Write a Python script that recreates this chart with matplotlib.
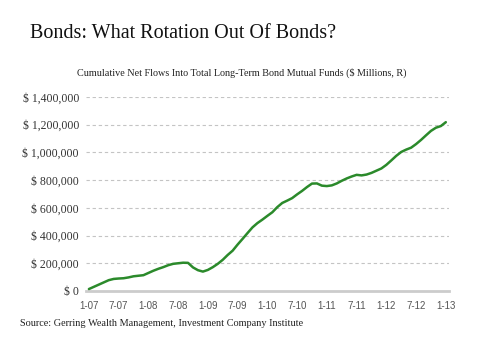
import matplotlib
matplotlib.use('Agg')
import matplotlib.pyplot as plt
import numpy as np

# monthly cumulative net flows, Jan 2007 .. Jan 2013 ($ millions)
flows = [14000, 30000, 46000, 62000, 78000, 87000, 90000, 92000, 98000, 106000,
         110000, 114000, 130000, 146000, 160000, 172000, 186000, 196000, 200000, 204000,
         203000, 170000, 150000, 140000, 152000, 172000, 196000, 225000, 260000, 291000,
         335000, 376000, 418000, 459000, 490000, 515000, 542000, 568000, 605000, 635000,
         652000, 670000, 697000, 722000, 750000, 775000, 776000, 760000, 757000, 762000,
         776000, 795000, 812000, 826000, 838000, 834000, 840000, 852000, 868000, 884000,
         910000, 942000, 975000, 1003000, 1020000, 1034000, 1060000, 1090000, 1123000, 1155000,
         1178000, 1190000, 1218000]
tick_pos = list(range(0, 73, 6))
tick_labels = ['1-07', '7-07', '1-08', '7-08', '1-09', '7-09', '1-10',
               '7-10', '1-11', '7-11', '1-12', '7-12', '1-13']
y_ticks = [0, 200000, 400000, 600000, 800000, 1000000, 1200000, 1400000]

serif = ['Liberation Serif', 'DejaVu Serif']
sans = ['Liberation Sans', 'DejaVu Sans']

fig = plt.figure(figsize=(4.8, 3.6), dpi=100)
ax = fig.add_axes([0.179, 0.1917, 0.756, 0.539])

months = np.arange(len(flows))
ax.plot(months, flows, color='#2b8a2b', lw=1.8, solid_capstyle='round')

ax.set_xlim(-0.6, 72.6)
ax.set_ylim(0, 1400000)
ax.set_yticks(y_ticks)
ax.set_yticklabels(['$ 0' if v == 0 else '$ {:,}'.format(v) for v in y_ticks],
                   fontfamily=serif, fontsize=8.5, color='#333333')
ax.set_xticks(tick_pos)
ax.set_xticklabels(tick_labels, fontfamily=sans, fontsize=7, color='#555555')
ax.tick_params(length=0)
ax.tick_params(axis='y', pad=5)
ax.tick_params(axis='x', pad=7)

for v in y_ticks[1:]:
    ax.axhline(v, color='#c4c4c4', lw=0.8, ls=(0, (3, 2.5)), zorder=0)
for s in ['top', 'right', 'left']:
    ax.spines[s].set_visible(False)
ax.spines['bottom'].set_color('#cccccc')
ax.spines['bottom'].set_linewidth(2)
ax.spines['bottom'].set_zorder(0)

fig.text(0.0625, 0.908, 'Bonds: What Rotation Out Of Bonds?', fontfamily=serif,
         fontsize=14.5, color='#111111', va='center', ha='left')
fig.text(0.503, 0.797, 'Cumulative Net Flows Into Total Long-Term Bond Mutual Funds ($ Millions, R)',
         fontfamily=serif, fontsize=7.3, color='#222222', va='center', ha='center')
fig.text(0.042, 0.1, 'Source: Gerring Wealth Management, Investment Company Institute',
         fontfamily=serif, fontsize=7.4, color='#222222', va='center', ha='left')

fig.savefig('out.png', dpi=100, facecolor='white')
